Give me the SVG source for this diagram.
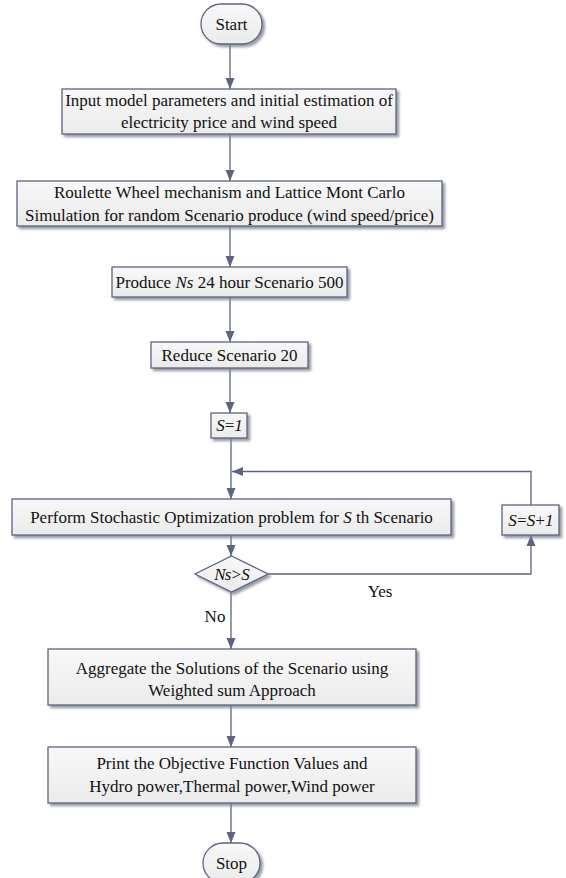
<svg xmlns="http://www.w3.org/2000/svg" width="566" height="878" viewBox="0 0 566 878">
<style>
.box{fill:url(#g);stroke:#5b6580;stroke-width:1.3;filter:url(#sh)}
.ln{fill:none;stroke:#5b6580;stroke-width:1.3}
.ar{marker-end:url(#ah)}
text{font-family:"Liberation Serif","Times New Roman",serif;font-size:17px;fill:#111;text-anchor:middle}
.i{font-style:italic}
</style>
<defs>
<linearGradient id="g" x1="0" y1="0" x2="0" y2="1"><stop offset="0" stop-color="#f8f8f8"/><stop offset="1" stop-color="#ebebeb"/></linearGradient>
<filter id="sh" x="-10%" y="-10%" width="130%" height="140%"><feDropShadow dx="2.5" dy="2.5" stdDeviation="0.8" flood-color="#7d838f" flood-opacity="0.8"/></filter>
<marker id="ah" markerUnits="userSpaceOnUse" markerWidth="12" markerHeight="12" viewBox="0 0 12 12" refX="11" refY="6" orient="auto"><path d="M0,1.5 L11,6 L0,10.5 Z" fill="#5b6580"/></marker>
</defs>
<g id="connectors">
<path class="ln ar" d="M230,44 V89"/>
<path class="ln ar" d="M230,134 V181"/>
<path class="ln ar" d="M230,226 V267"/>
<path class="ln ar" d="M230,297 V342"/>
<path class="ln ar" d="M230,368 V413"/>
<path class="ln ar" d="M231,438 V499"/>
<path class="ln ar" d="M531,505 V471.5 H232"/>
<path class="ln ar" d="M231,535 V556"/>
<path class="ln ar" d="M268,574 H531 V535"/>
<path class="ln ar" d="M231,592 V649"/>
<path class="ln ar" d="M231,705 V747"/>
<path class="ln ar" d="M231,803 V843"/>
<text x="380" y="597">Yes</text>
<text x="215" y="622">No</text>
</g>
<g id="start"><rect class="box" x="201" y="4" width="61" height="40" rx="20"/><text x="231.5" y="29.5">Start</text></g>
<g id="input"><rect class="box" x="62" y="89" width="334" height="45"/><text x="229" y="106">Input model parameters and initial estimation of</text><text x="229" y="128">electricity price and wind speed</text></g>
<g id="roulette"><rect class="box" x="17" y="181" width="425" height="45"/><text x="229.5" y="198">Roulette Wheel mechanism and Lattice Mont Carlo</text><text x="229.5" y="221">Simulation for random Scenario produce (wind speed/price)</text></g>
<g id="produce"><rect class="box" x="112" y="267" width="235" height="30"/><text x="229.5" y="287.5">Produce <tspan class="i">Ns</tspan> 24 hour Scenario 500</text></g>
<g id="reduce"><rect class="box" x="151" y="342" width="157" height="26"/><text x="229.5" y="360.5">Reduce Scenario 20</text></g>
<g id="s1"><rect class="box" x="211" y="413" width="36" height="25"/><text x="229" y="431" class="i" letter-spacing="-1">S=1</text></g>
<g id="perform"><rect class="box" x="12" y="499" width="439" height="36"/><text x="231.5" y="522.5">Perform Stochastic Optimization problem for <tspan class="i">S</tspan> th Scenario</text></g>
<g id="sinc"><rect class="box" x="502" y="505" width="57" height="30"/><text x="530.5" y="525.5" class="i" letter-spacing="-0.8">S=S+1</text></g>
<g id="decision"><path class="box" d="M231.5,556 L268,574 L231.5,592 L195,574 Z"/><text x="231.5" y="579.5" class="i" letter-spacing="-0.8">Ns&gt;S</text></g>
<g id="aggregate"><rect class="box" x="48" y="649" width="368" height="56"/><text x="232" y="674">Aggregate the Solutions of the Scenario using</text><text x="232" y="696">Weighted sum Approach</text></g>
<g id="print"><rect class="box" x="48" y="747" width="368" height="56"/><text x="232" y="768.5">Print the Objective Function Values and</text><text x="232" y="792">Hydro power,Thermal power,Wind power</text></g>
<g id="stop"><rect class="box" x="203" y="843" width="57" height="40" rx="20"/><text x="231.5" y="868.5">Stop</text></g>
</svg>
